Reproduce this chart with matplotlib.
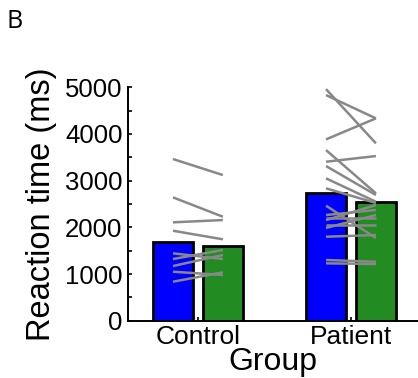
import matplotlib
matplotlib.use("Agg")
import matplotlib.pyplot as plt
import numpy as np

# ---- data ----
groups = ["Control", "Patient"]
bar_cond1 = [1692, 2728]   # blue
bar_cond2 = [1600, 2535]   # green

control_cond1 = [3463, 2642, 2107, 1927, 1443, 1321, 1171, 1049, 835]
control_cond2 = [3120, 2227, 2156, 1743, 1321, 1514, 1407, 979, 1036]

patient_cond1 = [4960, 4833, 3884, 3655, 3405, 3313, 3049, 2835, 2463,
                 2263, 2199, 2156, 2049, 1987, 1799, 1300, 1229]
patient_cond2 = [3799, 4334, 4334, 2728, 3527, 2692, 2548, 2520, 1771,
                 2371, 2199, 2477, 2049, 2263, 1835, 1263, 1214]

yticks = [0, 1000, 2000, 3000, 4000, 5000]

plt.rcParams['font.family'] = ['Liberation Sans', 'DejaVu Sans']

fig = plt.figure(figsize=(4.18, 3.78), dpi=100)
ax = fig.add_axes([0.3062, 0.1516, 0.6938, 0.6175])

x = np.arange(len(groups))
width = 0.26
off = 0.163
ax.bar(x - off, bar_cond1, width, color='#0000ff', edgecolor='black', linewidth=2, zorder=2)
ax.bar(x + off, bar_cond2, width, color='#228b22', edgecolor='black', linewidth=2, zorder=2)

for xi, a, b in [(0, control_cond1, control_cond2), (1, patient_cond1, patient_cond2)]:
    for va, vb in zip(a, b):
        ax.plot([xi - off, xi + off], [va, vb], color='#888888', lw=1.8,
                solid_capstyle='butt', zorder=3)

ax.set_xlim(-0.457, 1.438)
ax.set_ylim(0, 5000)
ax.set_yticks(yticks)
ax.set_yticks(np.arange(500, 5000, 1000), minor=True)
ax.set_xticks(x)
ax.set_xticklabels(groups)

for s in ['top', 'right']:
    ax.spines[s].set_visible(False)
for s in ['left', 'bottom']:
    ax.spines[s].set_linewidth(1.4)

ax.tick_params(axis='y', which='both', direction='in', length=3, width=1.2,
               labelsize=18.5, pad=4)
ax.tick_params(axis='x', which='both', direction='in', length=3, width=1.2,
               labelsize=19, pad=3)

ax.set_ylabel("Reaction time (ms)", fontsize=23.5, labelpad=6)
ax.set_xlabel("Group", fontsize=23, labelpad=-1)

fig.text(15 / 418, 1 - 22 / 378, "B", fontsize=18, ha='center', va='center',
         family=['Open Sans', 'DejaVu Sans'])

fig.savefig("out.png", dpi=100)
